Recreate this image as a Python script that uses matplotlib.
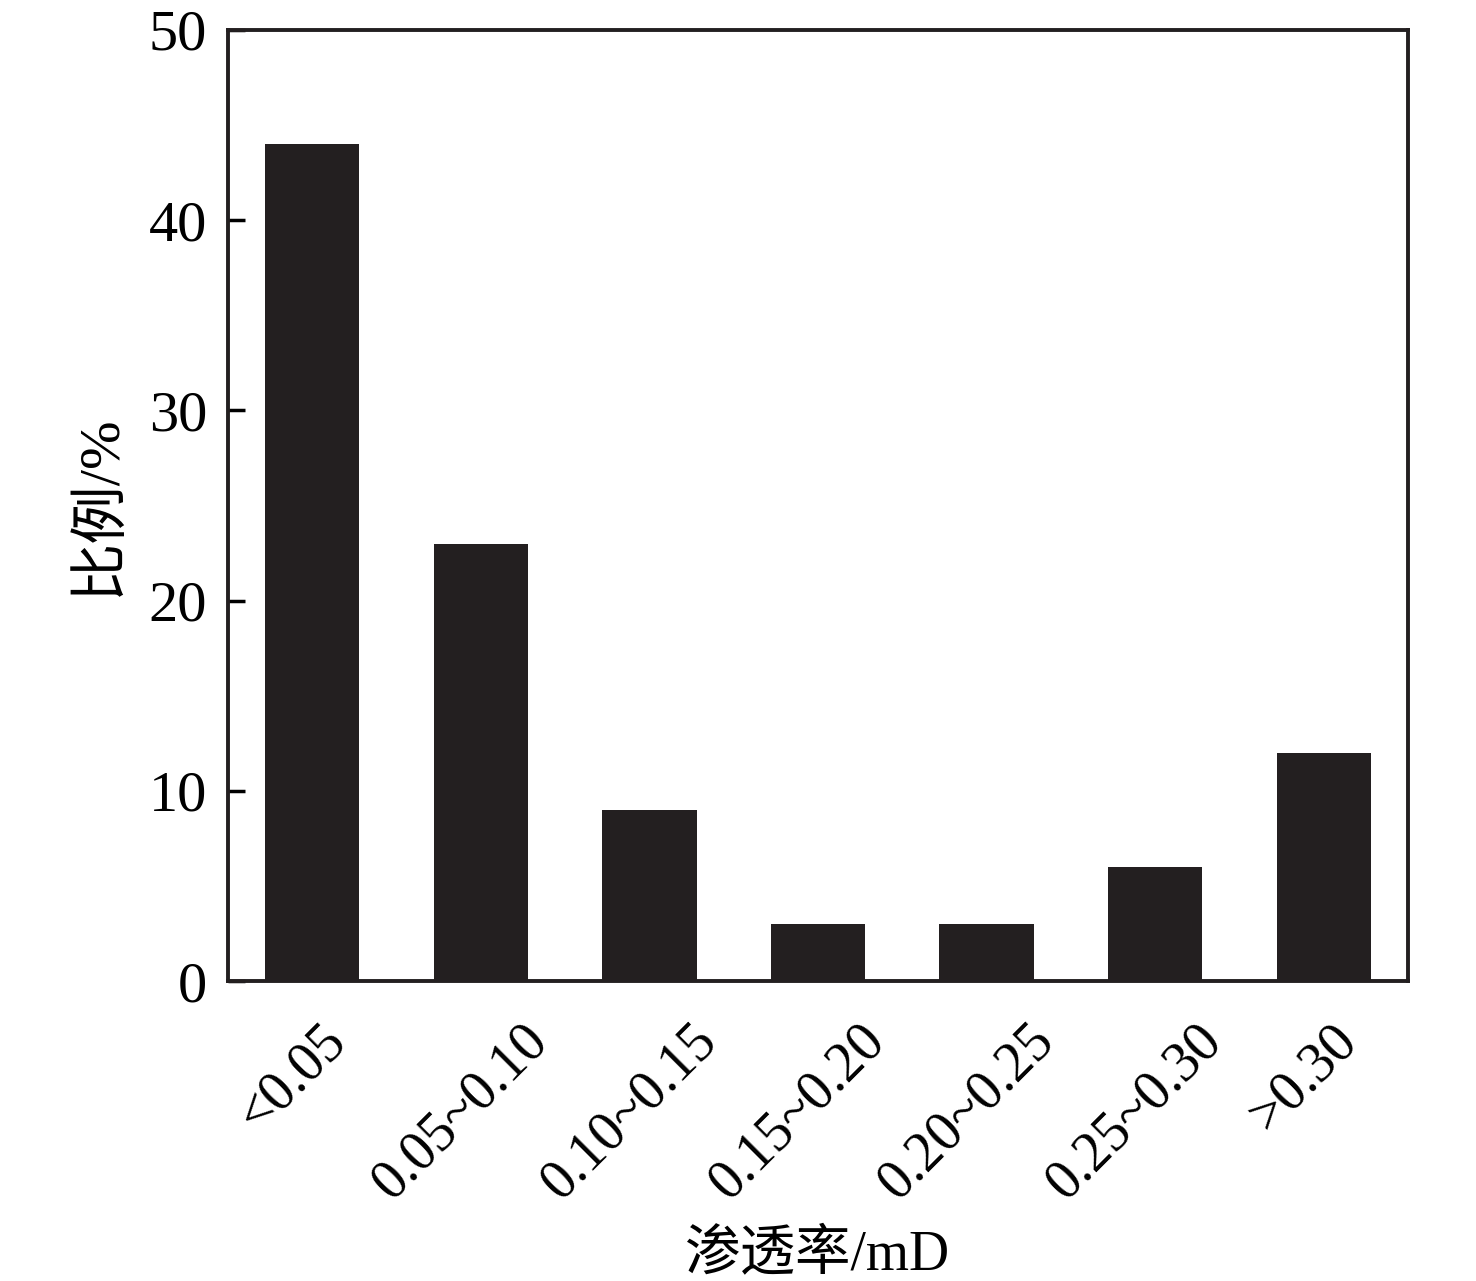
import matplotlib
matplotlib.use("Agg")
import matplotlib.pyplot as plt
from matplotlib.transforms import ScaledTranslation

# permeability classes and share of samples
categories = ["<0.05", "0.05~0.10", "0.10~0.15", "0.15~0.20", "0.20~0.25", "0.25~0.30", ">0.30"]
ratios = [44, 23, 9, 3, 3, 6, 12]
y_ticks = [0, 10, 20, 30, 40, 50]

plt.rcParams['font.family'] = ['Liberation Serif', 'Noto Sans CJK SC']
plt.rcParams['font.size'] = 42

fig = plt.figure(figsize=(14.76, 12.81), dpi=100)
ax = fig.add_axes([228 / 1476, 1 - 981 / 1281, 1180 / 1476, 951 / 1281])

x = list(range(len(categories)))
ax.bar(x, ratios, width=0.56, color='#231f20')

ax.set_xlim(-0.5, 6.5)
ax.set_ylim(0, 50)
ax.set_yticks(y_ticks)
ax.set_xticks(x)
ax.set_xticklabels(categories, rotation=45, ha='center', va='top', fontsize=40)
ax.tick_params(axis='y', direction='in', length=12, width=2.5, pad=15)
ax.tick_params(axis='x', length=0, pad=24)
# labels sit a little left of the tick centres in the original
shift = ScaledTranslation(-20 / 100, 0, fig.dpi_scale_trans)
for lbl in ax.get_xticklabels():
    lbl.set_transform(lbl.get_transform() + shift)
for sp in ax.spines.values():
    sp.set_linewidth(2.8)
    sp.set_color('#231f20')

ax.set_ylabel("比例/%", labelpad=16)
ax.set_xlabel("渗透率/mD", labelpad=14, fontsize=40)

fig.savefig("out.png", dpi=100)
plt.close(fig)
